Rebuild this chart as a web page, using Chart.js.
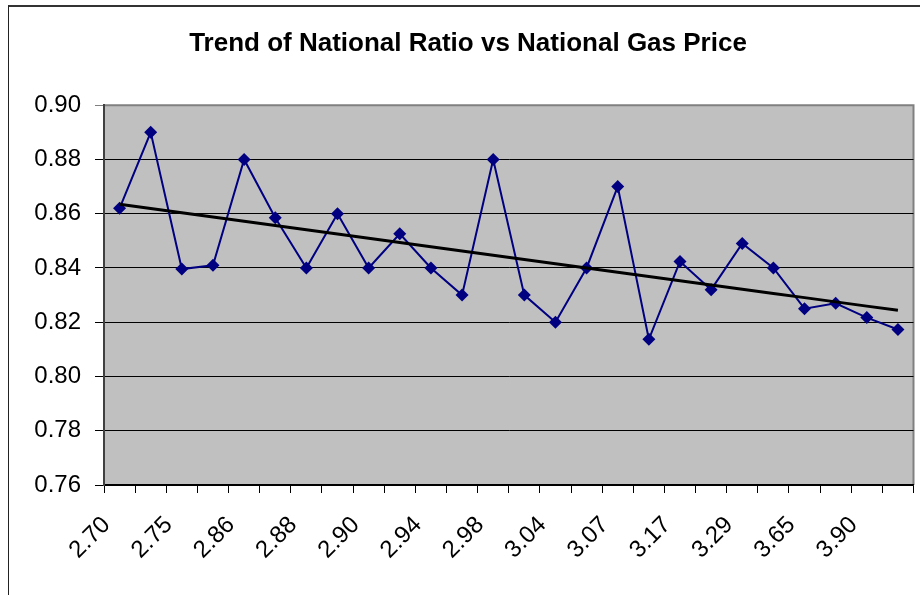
<!DOCTYPE html>
<html>
<head>
<meta charset="utf-8">
<script src="https://cdn.jsdelivr.net/npm/chart.js@4"></script>
<style>
  html, body { margin: 0; padding: 0; background: #fff; overflow: hidden; }
  body { width: 920px; height: 595px; position: relative; }
  #frame { position: absolute; left: 8px; top: 5px; width: 1000px; height: 700px;
           border-left: 1.5px solid #222; border-top: 2px solid #333; }
  #wrap { position: absolute; left: 22px; top: 0; width: 898px; height: 595px; }
</style>
</head>
<body>
<div id="frame"></div>
<div id="wrap"><canvas id="chart"></canvas></div>
<script>
// gas price categories (only every other one is labelled on the axis)
const prices = ['2.70', '2.72', '2.75', '2.80', '2.86', '2.87', '2.88', '2.89', '2.90', '2.92',
  '2.94', '2.96', '2.98', '3.01', '3.04', '3.05', '3.07', '3.12', '3.17', '3.22',
  '3.29', '3.45', '3.65', '3.80', '3.90', '4.05'];

// national ratio at each price
const ratios = [0.862, 0.890, 0.8396, 0.841, 0.880, 0.8585, 0.840, 0.860, 0.840, 0.8526,
  0.840, 0.830, 0.880, 0.830, 0.820, 0.840, 0.870, 0.8137, 0.8424, 0.832,
  0.849, 0.840, 0.825, 0.827, 0.8217, 0.8173];

const yTicks = [0.76, 0.78, 0.80, 0.82, 0.84, 0.86, 0.88, 0.90];

// least-squares linear trend over the category index
const n = ratios.length;
const mx = (n - 1) / 2;
const my = ratios.reduce((a, b) => a + b, 0) / n;
let sxy = 0, sxx = 0;
ratios.forEach((v, i) => { sxy += (i - mx) * (v - my); sxx += (i - mx) * (i - mx); });
const slope = sxy / sxx;
const trend = ratios.map((v, i) => my + slope * (i - mx));

const plotBg = {
  id: 'plotBg',
  beforeDraw(chart) {
    const { ctx, chartArea: a } = chart;
    ctx.save();
    ctx.fillStyle = '#c0c0c0';
    ctx.fillRect(a.left, a.top, a.right - a.left, a.bottom - a.top);
    ctx.strokeStyle = '#808080';
    ctx.lineWidth = 2;
    ctx.beginPath();
    ctx.moveTo(a.left, a.top);
    ctx.lineTo(a.right, a.top);
    ctx.lineTo(a.right, a.bottom);
    ctx.stroke();
    ctx.restore();
  }
};

new Chart(document.getElementById('chart'), {
  type: 'line',
  data: {
    labels: prices,
    datasets: [
      {
        label: 'Linear trend',
        data: trend,
        borderColor: '#000',
        borderWidth: 3,
        pointRadius: 0,
        fill: false,
        order: 0
      },
      {
        label: 'National Ratio',
        data: ratios,
        borderColor: '#000080',
        borderWidth: 2,
        pointStyle: 'rectRot',
        pointRadius: 6.5,
        pointBackgroundColor: '#000080',
        pointBorderColor: '#000080',
        pointBorderWidth: 0,
        tension: 0,
        fill: false,
        order: 1
      }
    ]
  },
  options: {
    responsive: true,
    maintainAspectRatio: false,
    animation: false,
    layout: { padding: { left: 0, right: 6, top: 0, bottom: 0 } },
    plugins: {
      legend: { display: false },
      tooltip: { enabled: false },
      title: {
        display: true,
        text: 'Trend of National Ratio vs National Gas Price',
        color: '#000',
        font: { family: 'Liberation Sans, Arial, sans-serif', size: 26, weight: 'bold' },
        padding: { top: 28, bottom: 46 }
      }
    },
    scales: {
      x: {
        offset: true,
        grid: { offset: true, drawOnChartArea: false, color: '#000', tickLength: 8 },
        border: { color: '#000', width: 1.5 },
        ticks: {
          autoSkip: false,
          minRotation: 45,
          maxRotation: 45,
          padding: 18,
          labelOffset: -13,
          color: '#000',
          font: { family: 'Liberation Sans, Arial, sans-serif', size: 24 },
          callback: (v, i) => (i % 2 === 0 ? prices[i] : '')
        },
        afterFit: (s) => { s.height = 110; s.paddingLeft = 0; s.paddingRight = 0; }
      },
      y: {
        min: yTicks[0],
        max: yTicks[yTicks.length - 1],
        afterBuildTicks: (s) => { s.ticks = yTicks.map((v) => ({ value: v })); },
        grid: { color: (c) => (c.tick && c.tick.value === 0.90 ? '#808080' : '#000'), lineWidth: 1, tickLength: 9 },
        border: { color: '#404040', width: 2 },
        ticks: {
          padding: 14,
          color: '#000',
          font: { family: 'Liberation Sans, Arial, sans-serif', size: 24 },
          callback: (v) => Number(v).toFixed(2)
        },
        afterFit: (s) => { s.width = 82; }
      }
    }
  },
  plugins: [plotBg]
});
</script>
</body>
</html>
